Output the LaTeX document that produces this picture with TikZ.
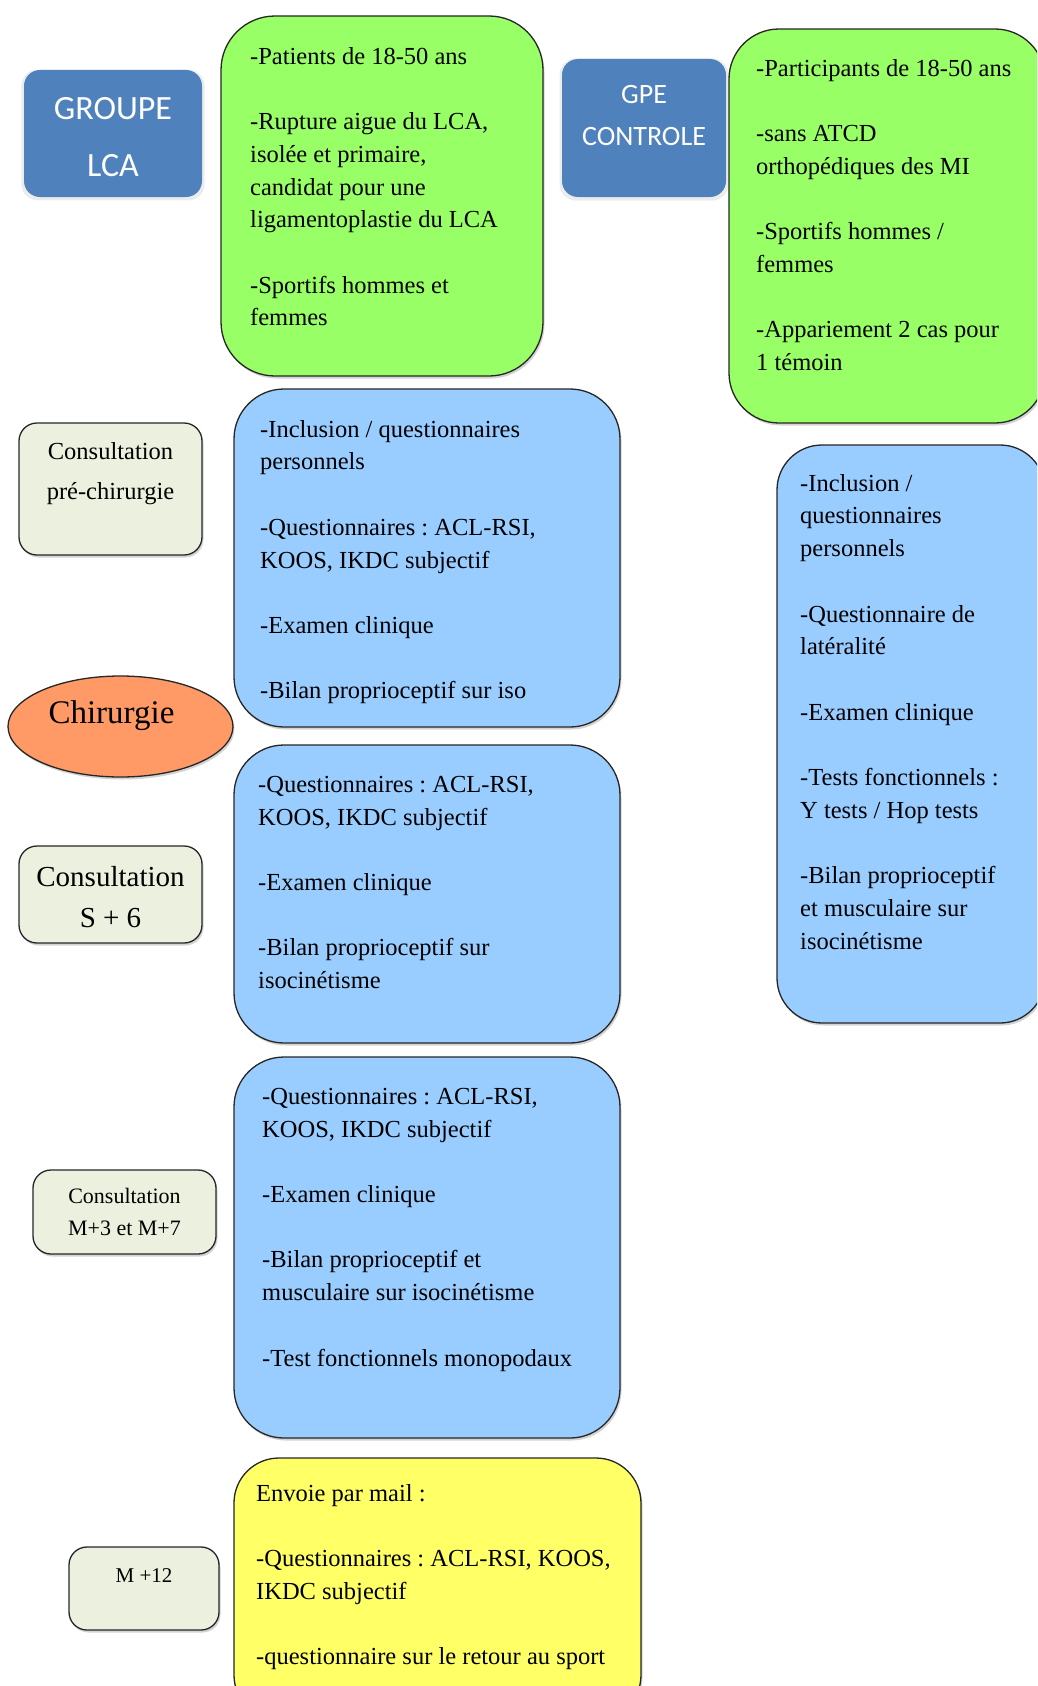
\documentclass[tikz,border=0pt]{standalone}
\usepackage{fontspec}
\setmainfont{Liberation Serif}
\newfontfamily\calfont{Carlito}
\usepackage{tikz}
\usetikzlibrary{positioning,shapes.geometric,shadows}
\frenchspacing

\definecolor{hdrblue}{HTML}{4F81BD}
\definecolor{limegreen}{HTML}{99FF66}
\definecolor{skyblue}{HTML}{99CCFF}
\definecolor{paleyellow}{HTML}{FFFF66}
\definecolor{salmonorange}{HTML}{FF9966}
\definecolor{sage}{HTML}{EBF1DE}

\newcommand{\skipline}{\\[32.7pt]}

\begin{document}
\begin{tikzpicture}[%
        x=1pt, y=-1pt,
        outline/.style={draw=black!85, line width=1.3pt, inner sep=0pt, outer sep=0pt,
                drop shadow={shadow xshift=1.5pt, shadow yshift=-2.5pt, opacity=.35}},
        panel/.style={outline, anchor=north west, rounded corners=#1},
        panel/.default=50pt,
        stamp/.style={panel=18pt, fill=sage},
        header/.style={fill=hdrblue, inner sep=0pt, outer sep=0pt, anchor=north west,
                rounded corners=16pt,
                drop shadow={shadow xshift=0pt, shadow yshift=-1.5pt, shadow scale=1.03, opacity=.15}},
        items/.style={anchor=north west, align=left, inner sep=0pt,
                font=\fontsize{24.5}{32.7}\selectfont},
        caption/.style={align=center, inner sep=0pt}
        ]

        \useasboundingbox (0,0) rectangle (1037,1686);
        \clip (0,0) rectangle (1037,1686);

        % groupe LCA
        \node[header, minimum width=178pt, minimum height=127pt] (lca) at (24,70) {};
        \node[caption, text=white, font=\calfont\fontsize{34}{57}\selectfont]
                (lcatext) at ([yshift=-4pt]lca.center) {GROUPE\\LCA};

        \node[panel=54pt, fill=limegreen, minimum width=322pt, minimum height=360pt] (lcacrit) at (221,16) {};
        \node[items, below right=31pt and 29pt of lcacrit.north west] (lcacrittext) {%
                -Patients de 18-50 ans\skipline%
                -Rupture aigue du LCA,\\
                isolée et primaire,\\
                candidat pour une\\
                ligamentoplastie du LCA\skipline%
                -Sportifs hommes et\\
                femmes};

        % groupe controle
        \node[header, minimum width=164pt, minimum height=138pt] (ctrl) at (562,59) {};
        \node[caption, text=white, font=\calfont\fontsize{28}{42}\selectfont]
                (ctrltext) at ([yshift=12pt]ctrl.center) {GPE\\CONTROLE};

        \node[panel, fill=limegreen, minimum width=316pt, minimum height=394pt] (ctrlcrit) at (729,29) {};
        \node[items, below right=30pt and 27pt of ctrlcrit.north west] (ctrlcrittext) {%
                -Participants de 18-50 ans\skipline%
                -sans ATCD\\
                orthopédiques des MI\skipline%
                -Sportifs hommes /\\
                femmes\skipline%
                -Appariement 2 cas pour\\
                1 témoin};

        \node[panel=45pt, fill=skyblue, minimum width=268pt, minimum height=578pt] (ctrlvisit) at (777,445) {};
        \node[items, below right=29pt and 23pt of ctrlvisit.north west] (ctrlvisittext) {%
                -Inclusion /\\
                questionnaires\\
                personnels\skipline%
                -Questionnaire de\\
                latéralité\skipline%
                -Examen clinique\skipline%
                -Tests fonctionnels :\\
                Y tests / Hop tests\skipline%
                -Bilan proprioceptif\\
                et musculaire sur\\
                isocinétisme};

        % consultation pre-chirurgie
        \node[stamp, minimum width=183pt, minimum height=132pt] (preop) at (19,423) {};
        \node[caption, font=\fontsize{24.5}{40}\selectfont]
                (preoptext) at ([yshift=15pt]preop.center) {Consultation\\pré-chirurgie};

        \node[panel, fill=skyblue, minimum width=386pt, minimum height=338pt] (preopvisit) at (234,389) {};
        \node[items, below right=31pt and 26pt of preopvisit.north west] (preopvisittext) {%
                -Inclusion / questionnaires\\
                personnels\skipline%
                -Questionnaires : ACL-RSI,\\
                KOOS, IKDC subjectif\skipline%
                -Examen clinique\skipline%
                -Bilan proprioceptif sur iso};

        % chirurgie
        \node[outline, ellipse, fill=salmonorange, minimum width=225pt, minimum height=101pt]
                (surgery) at (120.5,726.5) {};
        \node[caption, font=\fontsize{33}{40}\selectfont]
                (surgerytext) at ([xshift=-9pt, yshift=11pt]surgery.center) {Chirurgie};

        % S+6
        \node[stamp, minimum width=183pt, minimum height=97pt] (week) at (19,846) {};
        \node[caption, font=\fontsize{29}{41}\selectfont]
                (weektext) at ([yshift=-3pt]week.center) {Consultation\\S + 6};

        \node[panel, fill=skyblue, minimum width=386pt, minimum height=298pt] (weekvisit) at (234,745) {};
        \node[items, below right=31pt and 24pt of weekvisit.north west] (weekvisittext) {%
                -Questionnaires : ACL-RSI,\\
                KOOS, IKDC subjectif\skipline%
                -Examen clinique\skipline%
                -Bilan proprioceptif sur\\
                isocinétisme};

        % M+3 et M+7
        \node[stamp, minimum width=183pt, minimum height=84pt] (month) at (33,1170) {};
        \node[caption, font=\fontsize{22}{32}\selectfont]
                (monthtext) at (month.center) {Consultation\\M+3 et M+7};

        \node[panel, fill=skyblue, minimum width=386pt, minimum height=381pt] (monthvisit) at (234,1057) {};
        \node[items, below right=31pt and 28pt of monthvisit.north west] (monthvisittext) {%
                -Questionnaires : ACL-RSI,\\
                KOOS, IKDC subjectif\skipline%
                -Examen clinique\skipline%
                -Bilan proprioceptif et\\
                musculaire sur isocinétisme\skipline%
                -Test fonctionnels monopodaux};

        % M+12
        \node[stamp, minimum width=150pt, minimum height=83pt] (year) at (69,1547) {};
        \node[caption, font=\fontsize{21}{28}\selectfont]
                (yeartext) at ([yshift=13pt]year.center) {M +12};

        \node[panel=45pt, fill=paleyellow, minimum width=407pt, minimum height=262pt] (yearmail) at (234,1458) {};
        \node[items, below right=26pt and 22pt of yearmail.north west] (yearmailtext) {%
                Envoie par mail :\skipline%
                -Questionnaires : ACL-RSI, KOOS,\\
                IKDC subjectif\skipline%
                -questionnaire sur le retour au sport};

\end{tikzpicture}
\end{document}
